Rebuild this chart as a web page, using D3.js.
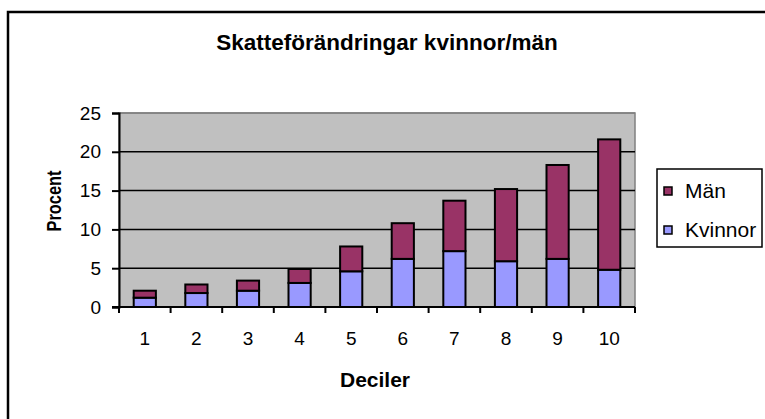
<!DOCTYPE html>
<html>
<head>
<meta charset="utf-8">
<script src="https://cdn.jsdelivr.net/npm/d3@7/dist/d3.min.js"></script>
<style>
  body { margin: 0; background: #fff; }
  svg { display: block; font-family: "Liberation Sans", Arial, sans-serif; }
</style>
</head>
<body>
<div class="chart"></div>
<script>
var svgWidth = 765;
var svgHeight = 419;

// chart values
var deciles = ["1", "2", "3", "4", "5", "6", "7", "8", "9", "10"];
var kvinnor = [1.2, 1.8, 2.1, 3.1, 4.6, 6.2, 7.2, 5.9, 6.2, 4.8];
var man = [0.9, 1.1, 1.3, 1.8, 3.2, 4.6, 6.5, 9.3, 12.1, 16.8];
var yTicks = [0, 5, 10, 15, 20, 25];
var seriesNames = ["Kvinnor", "Män"];
var seriesColors = { "Kvinnor": "#9999FF", "Män": "#993366" };

// plot area
var plot = { left: 119, top: 113, right: 635, bottom: 307 };

var svg = d3.select(".chart")
  .append("svg")
  .attr("width", svgWidth)
  .attr("height", svgHeight);

// outer chart frame (runs off the right and bottom edge)
svg.append("rect")
  .attr("x", 8)
  .attr("y", 12)
  .attr("width", 780)
  .attr("height", 430)
  .attr("fill", "#fff")
  .attr("stroke", "#000")
  .attr("stroke-width", 2.5);

var xScale = d3.scaleBand()
  .domain(deciles)
  .range([plot.left, plot.right])
  .paddingInner(0.57)
  .paddingOuter(0.285);

var yScale = d3.scaleLinear()
  .domain([0, 25])
  .range([plot.bottom, plot.top]);

// plot background
svg.append("rect")
  .attr("x", plot.left)
  .attr("y", plot.top)
  .attr("width", plot.right - plot.left)
  .attr("height", plot.bottom - plot.top)
  .attr("fill", "#C0C0C0")
  .attr("stroke", "#808080")
  .attr("stroke-width", 1.5);

// gridlines
svg.append("g")
  .selectAll("line")
  .data(yTicks.filter(d => d > 0))
  .enter()
  .append("line")
  .attr("x1", plot.left)
  .attr("x2", plot.right)
  .attr("y1", d => yScale(d))
  .attr("y2", d => yScale(d))
  .attr("stroke", d => d === 25 ? "#808080" : "#000")
  .attr("stroke-width", 1.5);

// stacked bars
var rows = deciles.map((d, i) => ({ decile: d, "Kvinnor": kvinnor[i], "Män": man[i] }));
var stacked = d3.stack().keys(seriesNames)(rows);

svg.append("g")
  .selectAll("g")
  .data(stacked)
  .enter()
  .append("g")
  .attr("fill", d => seriesColors[d.key])
  .selectAll("rect")
  .data(d => d)
  .enter()
  .append("rect")
  .attr("x", d => xScale(d.data.decile))
  .attr("width", xScale.bandwidth())
  .attr("y", d => yScale(d[1]))
  .attr("height", d => yScale(d[0]) - yScale(d[1]))
  .attr("stroke", "#000")
  .attr("stroke-width", 2);

// y axis
var leftAxis = d3.axisLeft(yScale)
  .tickValues(yTicks)
  .tickSize(7)
  .tickPadding(11);

var yAxis = svg.append("g")
  .attr("transform", `translate(${plot.left}, 0)`)
  .call(leftAxis);

yAxis.select(".domain").attr("stroke", "#000").attr("stroke-width", 2);
yAxis.selectAll(".tick line").attr("stroke", "#000").attr("stroke-width", 2);
yAxis.selectAll("text")
  .attr("font-size", "19px")
  .attr("font-family", "Liberation Sans, Arial, sans-serif")
  .attr("fill", "#000");

// x axis: ticks at category boundaries
var boundaries = d3.range(deciles.length + 1).map(i => plot.left + i * (plot.right - plot.left) / deciles.length);

var xAxis = svg.append("g");
xAxis.append("line")
  .attr("x1", plot.left - 7)
  .attr("x2", plot.right)
  .attr("y1", plot.bottom)
  .attr("y2", plot.bottom)
  .attr("stroke", "#000")
  .attr("stroke-width", 2);

xAxis.selectAll("line.tick")
  .data(boundaries)
  .enter()
  .append("line")
  .classed("tick", true)
  .attr("x1", d => d)
  .attr("x2", d => d)
  .attr("y1", plot.bottom)
  .attr("y2", plot.bottom + 6)
  .attr("stroke", "#000")
  .attr("stroke-width", 2);

xAxis.selectAll("text")
  .data(deciles)
  .enter()
  .append("text")
  .attr("x", d => xScale(d) + xScale.bandwidth() / 2)
  .attr("y", 345)
  .attr("text-anchor", "middle")
  .attr("font-size", "19px")
  .attr("fill", "#000")
  .text(d => d);

// title
svg.append("text")
  .attr("x", 387)
  .attr("y", 50)
  .attr("text-anchor", "middle")
  .attr("font-size", "22.5px")
  .attr("font-weight", "bold")
  .text("Skatteförändringar kvinnor/män");

// axis titles
svg.append("text")
  .attr("x", 375)
  .attr("y", 387)
  .attr("text-anchor", "middle")
  .attr("font-size", "21px")
  .attr("font-weight", "bold")
  .text("Deciler");

svg.append("text")
  .attr("transform", "translate(61, 201) rotate(-90)")
  .attr("text-anchor", "middle")
  .attr("font-size", "20px")
  .attr("font-weight", "bold")
  .attr("textLength", 61)
  .attr("lengthAdjust", "spacingAndGlyphs")
  .text("Procent");

// legend
var legend = svg.append("g");
legend.append("rect")
  .attr("x", 657)
  .attr("y", 169)
  .attr("width", 105)
  .attr("height", 78)
  .attr("fill", "#fff")
  .attr("stroke", "#000")
  .attr("stroke-width", 1.5);

var legendItems = legend.selectAll("g.item")
  .data(["Män", "Kvinnor"])
  .enter()
  .append("g")
  .classed("item", true)
  .attr("transform", (d, i) => `translate(664, ${191 + i * 39})`);

legendItems.append("rect")
  .attr("x", 0)
  .attr("y", -4)
  .attr("width", 8)
  .attr("height", 8)
  .attr("fill", d => seriesColors[d])
  .attr("stroke", "#000")
  .attr("stroke-width", 1.5);

legendItems.append("text")
  .attr("x", 21)
  .attr("y", 7)
  .attr("font-size", "21px")
  .text(d => d);
</script>
</body>
</html>
